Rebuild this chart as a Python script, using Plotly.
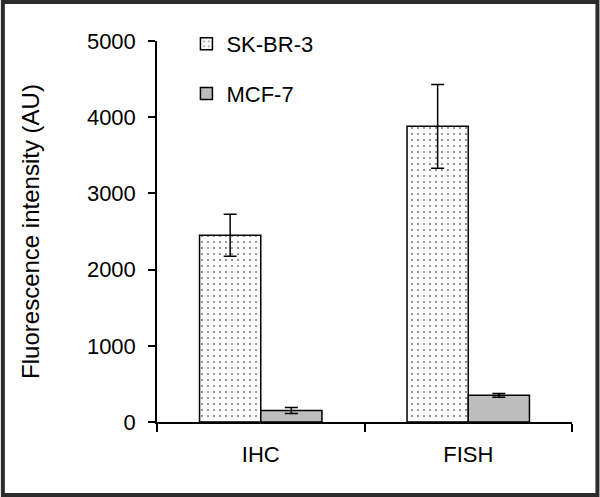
import plotly.graph_objects as go

categories = ["IHC", "FISH"]
skbr3_values = [2450, 3880]
skbr3_errors = [275, 550]
mcf7_values = [150, 350]
mcf7_errors = [40, 25]
y_ticks = [0, 1000, 2000, 3000, 4000, 5000]

W, H = 600, 497
L, R, T, B = 156.5, 27.5, 41, 75
pw = W - L - R
ph = H - T - B

font_family = "Liberation Sans, Arial, sans-serif"

fig = go.Figure()
fig.add_trace(go.Bar(
    x=categories, y=skbr3_values, name="SK-BR-3", legendgroup="a",
    marker=dict(color="white", line=dict(color="black", width=1.5),
                pattern=dict(shape=".", fgcolor="black", bgcolor="white", size=6, solidity=0.1)),
    error_y=dict(type="data", array=skbr3_errors, visible=True, color="black", thickness=1.5, width=6.5),
))
fig.add_trace(go.Bar(
    x=categories, y=mcf7_values, name="MCF-7", legendgroup="b",
    marker=dict(color="#bdbdbd", line=dict(color="black", width=1.5)),
    error_y=dict(type="data", array=mcf7_errors, visible=True, color="black", thickness=1.5, width=6.5),
))

def px_x(p):
    return (p - L) / pw

def px_y(p):
    return 1 - (p - T) / ph

fig.update_layout(
    width=W, height=H,
    margin=dict(l=L, r=R, t=T, b=B, pad=0),
    paper_bgcolor="white", plot_bgcolor="white",
    font=dict(family=font_family, size=22, color="black"),
    barmode="group", bargap=0.41, bargroupgap=0,
    showlegend=True,
    legend=dict(x=px_x(186), y=px_y(23), xanchor="left", yanchor="top",
                bgcolor="rgba(0,0,0,0)", font=dict(size=22), tracegroupgap=18,
                traceorder="grouped"),
    xaxis=dict(type="category", showline=True, linecolor="black", linewidth=1.5,
               ticks="outside", tickson="boundaries", ticklen=8, tickwidth=1.5, tickcolor="black",
               showgrid=False, zeroline=False, ticklabelstandoff=12,
               tickfont=dict(size=22)),
    yaxis=dict(range=[0, 5000], tickvals=y_ticks, showline=True, linecolor="black", linewidth=1.5,
               ticks="outside", ticklen=7, tickwidth=1.5, tickcolor="black",
               showgrid=False, zeroline=False, ticklabelstandoff=8,
               tickfont=dict(size=22),
               title=dict(text="Fluorescence intensity (AU)", font=dict(size=24), standoff=40)),
    shapes=[dict(type="rect", xref="paper", yref="paper",
                 x0=px_x(2), x1=px_x(W - 2), y0=px_y(H - 2), y1=px_y(2),
                 line=dict(color="#2b2b2b", width=4), fillcolor="rgba(0,0,0,0)", layer="above")],
)

fig.write_html("out.html", config={"displayModeBar": False},
               post_script="document.body.style.margin='0';document.body.style.padding='0';")
